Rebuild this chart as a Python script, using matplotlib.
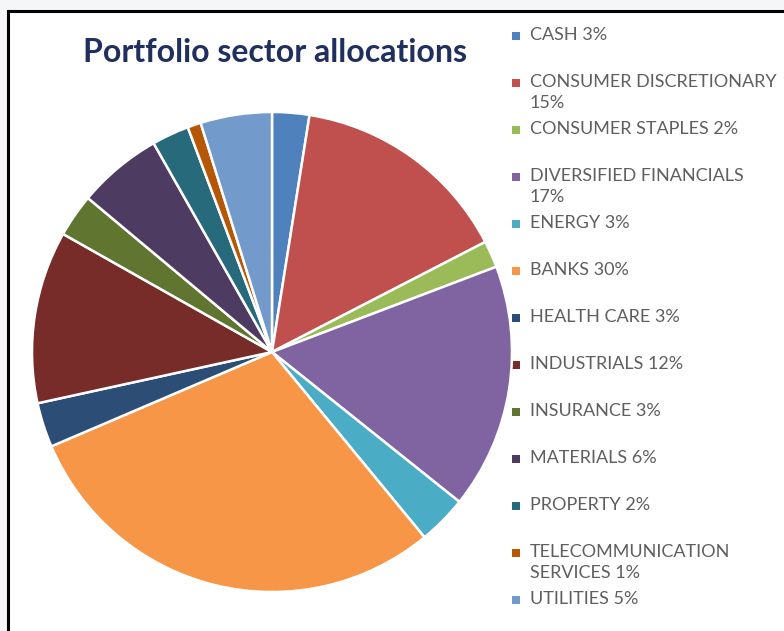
import matplotlib
matplotlib.use('Agg')
import matplotlib.pyplot as plt
from matplotlib.patches import Rectangle
from matplotlib.lines import Line2D

# sectors (legend order = slice order, clockwise from 12 o'clock)
sectors = ["CASH 3%", "CONSUMER DISCRETIONARY\n15%", "CONSUMER STAPLES 2%",
           "DIVERSIFIED FINANCIALS\n17%", "ENERGY 3%", "BANKS 30%",
           "HEALTH CARE 3%", "INDUSTRIALS 12%", "INSURANCE 3%",
           "MATERIALS 6%", "PROPERTY 2%", "TELECOMMUNICATION\nSERVICES 1%",
           "UTILITIES 5%"]
weights = [2.5, 14.9, 1.8, 16.5, 3.3, 29.5, 3.0, 11.6, 2.9, 5.7, 2.5, 0.9, 4.8]
colors = ["#4F81BD", "#C0504D", "#9BBB59", "#8064A2", "#4BACC6", "#F79646",
          "#2C4D75", "#772C2A", "#5F7530", "#4D3B62", "#276A7C", "#B65708",
          "#729ACA"]

W, H = 784, 631
fig = plt.figure(figsize=(W / 100, H / 100), dpi=100)
fig.patch.set_facecolor("#f5f6f8")

# white chart area with black frame (left and top edges visible)
fig.patches.append(Rectangle((8 / W, 0), 1 - 8 / W, 1 - 11 / H, transform=fig.transFigure,
                             facecolor="white", edgecolor="none", zorder=-5))
fig.lines.append(Line2D([8 / W, 8 / W], [0, 1 - 11 / H], transform=fig.transFigure,
                        color="black", lw=2.2))
fig.lines.append(Line2D([8 / W, 1], [1 - 11 / H, 1 - 11 / H], transform=fig.transFigure,
                        color="black", lw=2.2))

# pie: centre (272, 352) px, radius 240 px
cx, cy, r = 272, 352, 240
ax = fig.add_axes([(cx - r) / W, 1 - (cy + r) / H, 2 * r / W, 2 * r / H])
ax.set_zorder(3)
ax.pie(weights, colors=colors, startangle=90, counterclock=False,
       wedgeprops=dict(edgecolor="white", linewidth=1.8))
ax.set_xlim(-1, 1)
ax.set_ylim(-1, 1)
ax.set_aspect("equal")
ax.axis("off")

fig.text(275 / W, 1 - 53 / H, "Portfolio sector allocations", ha="center", va="center",
         fontsize=23, fontweight="bold", color="#1F2F5E", family="Lato")

# legend, one entry every 47 px
for i, (lab, col) in enumerate(zip(sectors, colors)):
    yc = 36 + 47 * i
    fig.patches.append(Rectangle((512 / W, 1 - (yc + 4) / H), 8 / W, 8 / H,
                                 transform=fig.transFigure, facecolor=col, edgecolor="none"))
    fig.text(530 / W, 1 - (yc - 9) / H, lab, ha="left", va="top", fontsize=13,
             color="#5f5f5f", family="Lato", linespacing=1.38)

fig.savefig("out.png", dpi=100, facecolor=fig.get_facecolor())
